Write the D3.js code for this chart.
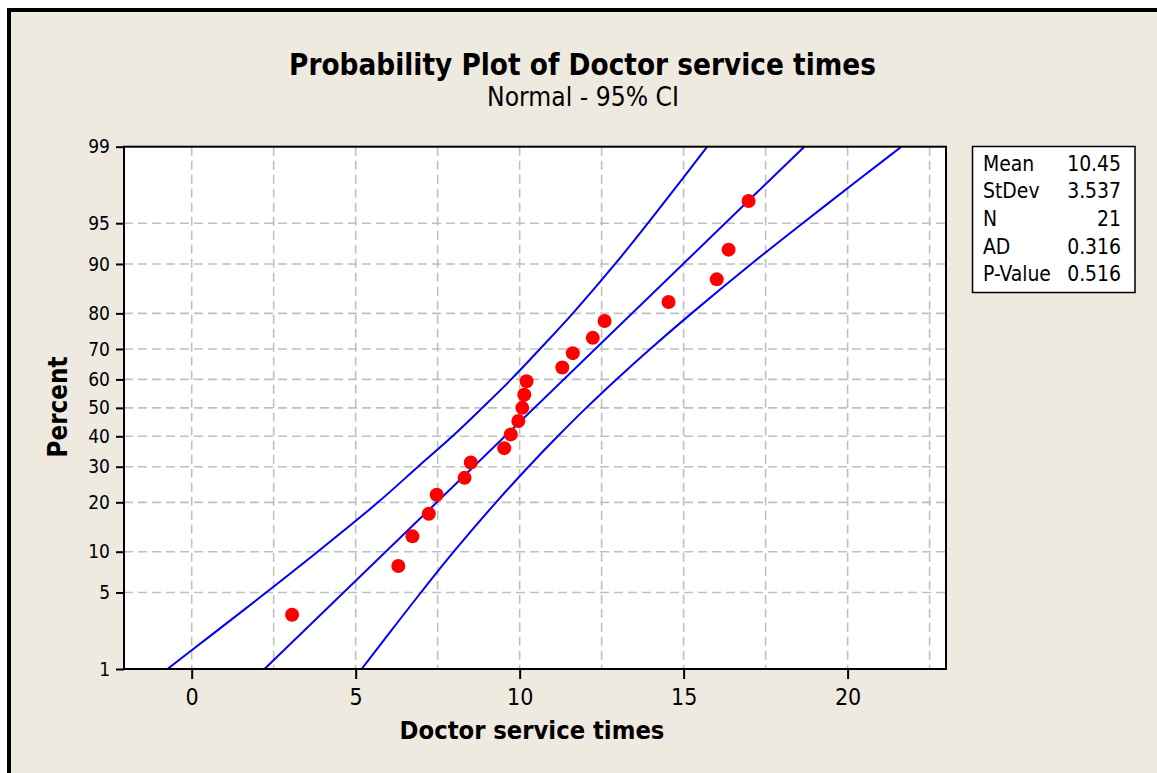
<!DOCTYPE html>
<html>
<head>
<meta charset="utf-8">
<script src="https://cdn.jsdelivr.net/npm/d3@7"></script>
<style>
  body { margin: 0; background: #fff; }
  svg { display: block; }
  text { font-family: "DejaVu Sans Condensed", "DejaVu Sans", sans-serif; fill: #000; }
</style>
</head>
<body>
<svg id="chart" width="1157" height="773"></svg>
<script>
const WIDTH = 1157;
const HEIGHT = 773;

// data
const pointX = [3.06, 6.30, 6.73, 7.23, 7.47, 8.32, 8.51, 9.53, 9.73, 9.96, 10.08,
                10.14, 10.21, 11.30, 11.62, 12.23, 12.59, 14.54, 16.01, 16.37, 16.98];
const pointPct = [3.27, 7.94, 12.62, 17.29, 21.96, 26.64, 31.31, 35.98, 40.65, 45.33, 50,
                  54.67, 59.35, 64.02, 68.69, 73.36, 78.04, 82.71, 87.38, 92.06, 96.73];

const fitPct = [1, 99];
const fitX = [2.22, 18.68];

const bandPct = [1, 2, 5, 10, 20, 30, 40, 50, 60, 70, 80, 90, 95, 98, 99];
const lowerX = [-0.74, 0.47, 2.27, 3.84, 5.68, 6.90, 7.95, 8.86, 9.74, 10.62, 11.62, 12.91, 13.91, 15.00, 15.72];
const upperX = [5.18, 5.90, 6.99, 7.99, 9.28, 10.27, 11.16, 12.03, 12.95, 13.98, 15.24, 17.06, 18.63, 20.43, 21.64];

const yTickValues = [1, 5, 10, 20, 30, 40, 50, 60, 70, 80, 90, 95, 99];
const xTickValues = [0, 5, 10, 15, 20];
const xGridValues = [0, 2.5, 5, 7.5, 10, 12.5, 15, 17.5, 20, 22.5];

const statLabels = ["Mean", "StDev", "N", "AD", "P-Value"];
const statValues = ["10.45", "3.537", "21", "0.316", "0.516"];

// inverse normal cdf (Acklam)
const probit = (p) => {
  const a = [-3.969683028665376e+01, 2.209460984245205e+02, -2.759285104469687e+02, 1.383577518672690e+02, -3.066479806614716e+01, 2.506628277459239e+00];
  const b = [-5.447609879822406e+01, 1.615858368580409e+02, -1.556989798598866e+02, 6.680131188771972e+01, -1.328068155288572e+01];
  const c = [-7.784894002430293e-03, -3.223964580411365e-01, -2.400758277161838e+00, -2.549732539343734e+00, 4.374664141464968e+00, 2.938163982698783e+00];
  const d = [7.784695709041462e-03, 3.224671290700398e-01, 2.445134137142996e+00, 3.754408661907416e+00];
  const pl = 0.02425;
  if (p < pl) {
    const q = Math.sqrt(-2 * Math.log(p));
    return (((((c[0]*q+c[1])*q+c[2])*q+c[3])*q+c[4])*q+c[5]) / ((((d[0]*q+d[1])*q+d[2])*q+d[3])*q+1);
  }
  if (p <= 1 - pl) {
    const q = p - 0.5, r = q * q;
    return (((((a[0]*r+a[1])*r+a[2])*r+a[3])*r+a[4])*r+a[5])*q / (((((b[0]*r+b[1])*r+b[2])*r+b[3])*r+b[4])*r+1);
  }
  const q = Math.sqrt(-2 * Math.log(1 - p));
  return -(((((c[0]*q+c[1])*q+c[2])*q+c[3])*q+c[4])*q+c[5]) / ((((d[0]*q+d[1])*q+d[2])*q+d[3])*q+1);
};

const PLOT = { left: 124, right: 946, top: 146.7, bottom: 669 };

let x = d3.scaleLinear().domain([-2.064, 23.0]).range([PLOT.left, PLOT.right]);
let z = d3.scaleLinear().domain([probit(0.01), probit(0.99)]).range([PLOT.bottom, PLOT.top]);

// percent scale usable by d3.axis
const y = p => z(probit(p / 100));
y.copy = () => y;
y.range = () => z.range();
y.domain = () => [1, 99];

const svg = d3.select("#chart");

// shaded background with the black frame on top/left
svg.append("rect")
   .attr("x", 9).attr("y", 10)
   .attr("width", WIDTH + 20).attr("height", HEIGHT + 20)
   .attr("fill", "#eeeae0")
   .attr("stroke", "#000")
   .attr("stroke-width", 4);

const fitText = (sel, target) => {
  const size = parseFloat(sel.attr("font-size"));
  const w = sel.node().getComputedTextLength();
  sel.attr("font-size", size * target / w);
};

// titles
fitText(svg.append("text")
   .attr("x", 582.5).attr("y", 75)
   .attr("text-anchor", "middle")
   .attr("font-weight", "bold")
   .attr("font-size", 28)
   .text("Probability Plot of Doctor service times"), 587);

fitText(svg.append("text")
   .attr("x", 583).attr("y", 106)
   .attr("text-anchor", "middle")
   .attr("font-size", 22)
   .text("Normal - 95% CI"), 192);

// plot area
svg.append("rect")
   .attr("x", PLOT.left).attr("y", PLOT.top)
   .attr("width", PLOT.right - PLOT.left)
   .attr("height", PLOT.bottom - PLOT.top)
   .attr("fill", "#fff");

const grid = svg.append("g")
                .attr("stroke", "#c0c0c0")
                .attr("stroke-width", 1.6)
                .attr("stroke-dasharray", "9,5");

grid.selectAll(".vgrid").data(xGridValues).enter()
    .append("line")
    .attr("x1", d => x(d)).attr("x2", d => x(d))
    .attr("y1", PLOT.top).attr("y2", PLOT.bottom);

grid.selectAll(".hgrid").data(yTickValues.filter(d => d !== 1 && d !== 99)).enter()
    .append("line")
    .attr("x1", PLOT.left).attr("x2", PLOT.right)
    .attr("y1", d => y(d)).attr("y2", d => y(d));

// axes
const yAxis = svg.append("g")
   .attr("transform", `translate(${PLOT.left},0)`)
   .call(d3.axisLeft(y).tickValues(yTickValues).tickSize(8).tickSizeOuter(0).tickPadding(6));

const xAxis = svg.append("g")
   .attr("transform", `translate(0,${PLOT.bottom})`)
   .call(d3.axisBottom(x).tickValues(xTickValues).tickSize(10).tickSizeOuter(0).tickPadding(10));

[yAxis, xAxis].forEach(ax => {
  ax.attr("font-family", null).attr("font-size", null);
  ax.select(".domain").remove();
  ax.selectAll(".tick line").attr("stroke", "#000").attr("stroke-width", 2);
});
yAxis.selectAll(".tick text").style("font-size", "19px");
xAxis.selectAll(".tick text").style("font-size", "23px");

// clip for the lines
svg.append("clipPath").attr("id", "plot-clip")
   .append("rect")
   .attr("x", PLOT.left).attr("y", PLOT.top)
   .attr("width", PLOT.right - PLOT.left)
   .attr("height", PLOT.bottom - PLOT.top);

const lineGen = d3.line()
                  .x(d => x(d[0]))
                  .y(d => y(d[1]))
                  .curve(d3.curveCatmullRom);

const lines = svg.append("g").attr("clip-path", "url(#plot-clip)");

[d3.zip(lowerX, bandPct), d3.zip(fitX, fitPct), d3.zip(upperX, bandPct)].forEach(series => {
  lines.append("path")
       .datum(series)
       .attr("d", lineGen)
       .attr("fill", "none")
       .attr("stroke", "#0000ff")
       .attr("stroke-width", 2);
});

svg.append("g").selectAll("circle")
   .data(d3.zip(pointX, pointPct))
   .enter().append("circle")
   .attr("cx", d => x(d[0]))
   .attr("cy", d => y(d[1]))
   .attr("r", 7)
   .attr("fill", "#ff0000");

// plot frame
svg.append("rect")
   .attr("x", PLOT.left).attr("y", PLOT.top)
   .attr("width", PLOT.right - PLOT.left)
   .attr("height", PLOT.bottom - PLOT.top)
   .attr("fill", "none")
   .attr("stroke", "#000")
   .attr("stroke-width", 2);

// axis titles
fitText(svg.append("text")
   .attr("x", 532).attr("y", 739)
   .attr("text-anchor", "middle")
   .attr("font-weight", "bold")
   .attr("font-size", 24)
   .text("Doctor service times"), 265);

fitText(svg.append("text")
   .attr("transform", "translate(67,407) rotate(-90)")
   .attr("text-anchor", "middle")
   .attr("font-weight", "bold")
   .attr("font-size", 24)
   .text("Percent"), 101);

// stats box
const legend = svg.append("g");
legend.append("rect")
      .attr("x", 972.5).attr("y", 146.5)
      .attr("width", 162.5).attr("height", 146)
      .attr("fill", "#fff")
      .attr("stroke", "#000")
      .attr("stroke-width", 1.5);

const rows = legend.selectAll(".row")
                   .data(d3.zip(statLabels, statValues))
                   .enter().append("g")
                   .attr("transform", (d, i) => `translate(0,${170.7 + i * 27.6})`);

const labels = rows.append("text")
    .attr("x", 983)
    .attr("font-size", 17)
    .text(d => d[0]);

rows.append("text")
    .attr("x", 1121)
    .attr("text-anchor", "end")
    .attr("font-size", 17)
    .text(d => d[1]);

// size the stats text so "P-Value" spans its original width
const pv = labels.filter(d => d[0] === "P-Value").node().getComputedTextLength();
legend.selectAll("text").attr("font-size", 17 * 68 / pv);
</script>
</body>
</html>
